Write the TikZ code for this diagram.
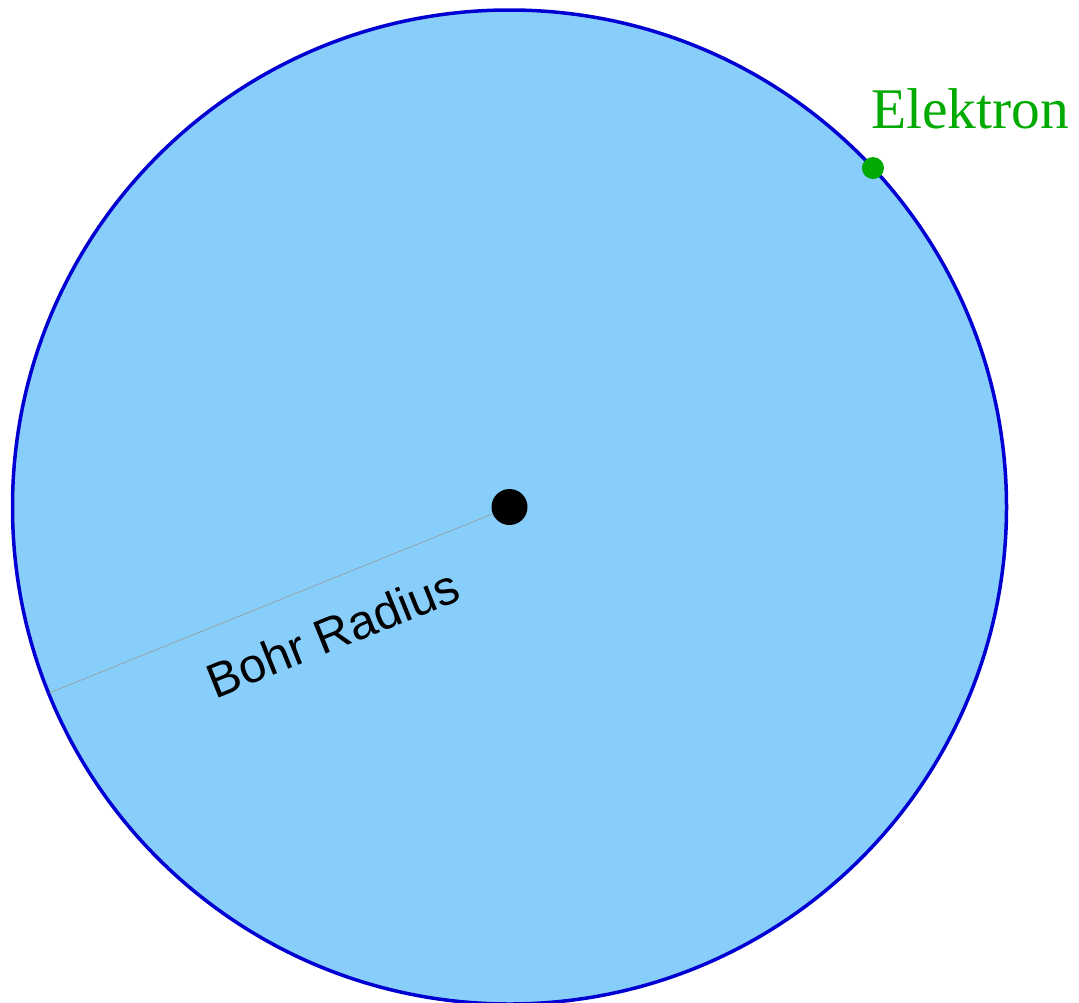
\documentclass[tikz,border=0pt]{standalone}
\usepackage{fontspec}
\setmainfont{Liberation Serif}
\newfontfamily\arialfont{Liberation Sans}
\definecolor{orbitfill}{RGB}{135,206,250}
\definecolor{orbitline}{RGB}{0,0,210}
\definecolor{elgreen}{RGB}{0,170,0}
\begin{document}
\begin{tikzpicture}[x=1pt,y=-1pt,
  orbitstyle/.style={circle,draw=orbitline,fill=orbitfill,line width=3.5pt,minimum size=994pt,inner sep=0pt,outer sep=0pt},
  nucleusstyle/.style={circle,fill=black,minimum size=36pt,inner sep=0pt},
  electronstyle/.style={circle,fill=elgreen,minimum size=22pt,inner sep=0pt},
  radiusline/.style={draw=gray!80,line width=0.6pt}]
\useasboundingbox (0,0) rectangle (1079,1002);
\clip (0,0) rectangle (1079,1002);
\node[orbitstyle] (orbit) at (509.5,507) {};
\coordinate (rim) at (orbit.202.2);
\draw[radiusline] (509.5,507) coordinate (ctr) -- (rim);
\node[nucleusstyle] (nucleus) at (ctr) {};
\node[electronstyle] (electron) at (orbit.43.2) {};
\node[anchor=base west,text=elgreen,inner sep=0pt,font=\fontsize{57.5}{62}\selectfont] (eltext) at (871,128) {Elektron};
\node[anchor=base,rotate=22,inner sep=0pt,font=\arialfont\fontsize{48.5}{52}\selectfont] (bohr) at (339,649) {Bohr Radius};
\end{tikzpicture}
\end{document}
